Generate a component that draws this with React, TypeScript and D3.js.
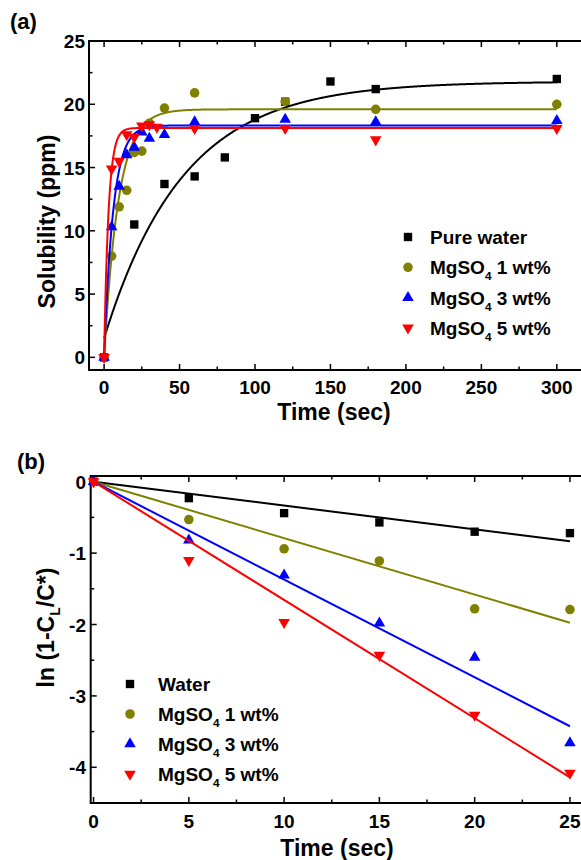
import React, { useEffect, useRef } from 'react';
import * as d3 from 'd3';

// ---- panel (a): solubility vs time ----
const timesWater = [0, 20, 40, 60, 80, 100, 120, 150, 180, 300];
const solWater = [0, 10.5, 13.7, 14.3, 15.8, 18.9, 20.2, 21.8, 21.2, 22.0];

const times1 = [0, 5, 10, 15, 20, 25, 30, 40, 60, 120, 180, 300];
const sol1 = [0, 8.0, 11.9, 13.2, 16.2, 16.3, 18.5, 19.7, 20.9, 20.2, 19.6, 20.0];

const times3 = [0, 5, 10, 15, 20, 25, 30, 40, 60, 120, 180, 300];
const sol3 = [0, 10.3, 13.5, 16.0, 16.6, 17.8, 17.3, 17.6, 18.6, 18.8, 18.6, 18.7];

const times5 = [0, 5, 10, 15, 20, 25, 30, 35, 60, 120, 180, 300];
const sol5 = [0, 14.9, 15.5, 17.6, 17.4, 18.3, 18.4, 18.2, 18.1, 18.1, 17.2, 18.1];

// first-order fits: y0 + A * (1 - exp(-k t))
const fitY0 = [1.5, 0, 0, 0];
const fitA = [20.3, 19.6, 18.33, 18.13];
const fitK = [0.0191, 0.105, 0.165, 0.34];

const xTicksA = [0, 50, 100, 150, 200, 250, 300];
const yTicksA = [0, 5, 10, 15, 20, 25];

// ---- panel (b): ln(1 - CL/C*) vs time ----
const timesB = [0, 5, 10, 15, 20, 25];
const lnWater = [0, -0.23, -0.44, -0.57, -0.70, -0.72];
const ln1 = [0, -0.53, -0.94, -1.11, -1.78, -1.79];
const ln3 = [0, -0.82, -1.31, -1.98, -2.46, -3.66];
const ln5 = [0, -1.10, -1.97, -2.43, -3.27, -4.08];
const slopesB = [-0.0334, -0.079, -0.137, -0.1656];

const xTicksB = [0, 5, 10, 15, 20, 25];
const yTicksB = [0, -1, -2, -3, -4];

const colors = ['#000000', '#808000', '#0000ff', '#ff0000'];
const symbols = ['square', 'circle', 'up', 'down'];
const namesA = ['Pure water', 'MgSO4 1 wt%', 'MgSO4 3 wt%', 'MgSO4 5 wt%'];
const namesB = ['Water', 'MgSO4 1 wt%', 'MgSO4 3 wt%', 'MgSO4 5 wt%'];

const FONT = '"Liberation Sans", Arial, sans-serif';
const TICK_FS = 19;
const TITLE_FS = 23;
const LEG_FS = 19;

function symbolPath(kind: string) {
  if (kind === 'square') return d3.symbol(d3.symbolSquare, 70)();
  if (kind === 'circle') return d3.symbol(d3.symbolCircle, 72)();
  return d3.symbol(d3.symbolTriangle, 58)();
}

function drawMarker(g: any, kind: string, x: number, y: number, color: string) {
  g.append('path')
    .attr('d', symbolPath(kind))
    .attr('fill', color)
    .attr('transform', `translate(${x},${y})${kind === 'down' ? ' rotate(180)' : ''}`);
}

function labelWithSub(sel: any, name: string, size: number) {
  // "MgSO4 ..." -> MgSO with subscript 4
  if (name.startsWith('MgSO4')) {
    sel.append('tspan').text('MgSO');
    sel.append('tspan').text('4').attr('font-size', size * 0.62).attr('dy', 6);
    sel.append('tspan').text(name.slice(5)).attr('dy', -6);
  } else {
    sel.text(name);
  }
}

function drawFrame(svg: any, x: any, y: any, xMinor: number[], yMinor: number[], xMajor: number[], yMajor: number[]) {
  const [x0, x1] = x.range();
  const [y0, y1] = y.range();
  const g = svg.append('g');
  g.append('rect')
    .attr('x', x0).attr('y', y1)
    .attr('width', x1 - x0).attr('height', y0 - y1)
    .attr('fill', 'none').attr('stroke', '#000').attr('stroke-width', 2);
  const tick = (xa: number, ya: number, xb: number, yb: number) =>
    g.append('line').attr('x1', xa).attr('y1', ya).attr('x2', xb).attr('y2', yb)
      .attr('stroke', '#000').attr('stroke-width', 1.5);
  xMajor.forEach(v => { tick(x(v), y0, x(v), y0 - 6); tick(x(v), y1, x(v), y1 + 6); });
  xMinor.forEach(v => { tick(x(v), y0, x(v), y0 - 3.5); tick(x(v), y1, x(v), y1 + 3.5); });
  yMajor.forEach(v => { tick(x0, y(v), x0 + 6, y(v)); });
  yMinor.forEach(v => { tick(x0, y(v), x0 + 3.5, y(v)); });
}

const App = () => {
  const svgRef = useRef<SVGSVGElement>(null);

  useEffect(() => {
    const svg = d3.select(svgRef.current);
    svg.selectAll('*').remove();
    svg.attr('font-family', FONT).attr('font-weight', 'bold');

    // ================= panel (a) =================
    const xa = d3.scaleLinear().domain([-10, 320]).range([89, 587]);
    const ya = d3.scaleLinear().domain([-1, 25]).range([370, 41]);

    drawFrame(svg, xa, ya,
      d3.range(25, 325, 50), d3.range(2.5, 25, 5),
      xTicksA, yTicksA);

    svg.append('g').selectAll('text').data(xTicksA).enter().append('text')
      .attr('x', d => xa(d)).attr('y', 394)
      .attr('text-anchor', 'middle').attr('font-size', TICK_FS)
      .text(d => d);
    svg.append('g').selectAll('text').data(yTicksA).enter().append('text')
      .attr('x', 85).attr('y', d => ya(d) + 7)
      .attr('text-anchor', 'end').attr('font-size', TICK_FS)
      .text(d => d);

    svg.append('text').attr('x', 334).attr('y', 420)
      .attr('text-anchor', 'middle').attr('font-size', TITLE_FS).text('Time (sec)');
    svg.append('text')
      .attr('transform', `translate(55,${(41 + 370) / 2 + 16}) rotate(-90)`)
      .attr('text-anchor', 'middle').attr('font-size', TITLE_FS).text('Solubility (ppm)');
    svg.append('text').attr('x', 10).attr('y', 29).attr('font-size', 22).text('(a)');

    const seriesA = [
      [timesWater, solWater], [times1, sol1], [times3, sol3], [times5, sol5],
    ];
    const tFit = d3.range(0, 300.25, 0.25);
    seriesA.forEach(([ts, vs], i) => {
      const line = d3.line<number>()
        .x(t => xa(t))
        .y(t => ya(fitY0[i] + fitA[i] * (1 - Math.exp(-fitK[i] * t))));
      svg.append('path').attr('d', line(tFit))
        .attr('fill', 'none').attr('stroke', colors[i]).attr('stroke-width', 2);
      const g = svg.append('g');
      ts.forEach((t, j) => drawMarker(g, symbols[i], xa(t), ya(vs[j]), colors[i]));
    });

    const legA = svg.append('g');
    namesA.forEach((name, i) => {
      const yy = 237 + i * 30.3;
      drawMarker(legA, symbols[i], 408, yy, colors[i]);
      const t = legA.append('text').attr('x', 430).attr('y', yy + 7).attr('font-size', LEG_FS);
      labelWithSub(t, name, LEG_FS);
    });

    // ================= panel (b) =================
    const xb = d3.scaleLinear().domain([-0.15, 26]).range([90.7, 589]);
    const yb = d3.scaleLinear().domain([-4.5, 0.08]).range([803, 476]);

    drawFrame(svg, xb, yb,
      d3.range(2.5, 26, 5), d3.range(-0.5, -4.6, -1),
      xTicksB, yTicksB);

    svg.append('g').selectAll('text').data(xTicksB).enter().append('text')
      .attr('x', d => xb(d)).attr('y', 828)
      .attr('text-anchor', 'middle').attr('font-size', TICK_FS)
      .text(d => d);
    svg.append('g').selectAll('text').data(yTicksB).enter().append('text')
      .attr('x', 86).attr('y', d => yb(d) + 7)
      .attr('text-anchor', 'end').attr('font-size', TICK_FS)
      .text(d => (d < 0 ? '-' + Math.abs(d) : d));

    svg.append('text').attr('x', 337).attr('y', 856)
      .attr('text-anchor', 'middle').attr('font-size', TITLE_FS).text('Time (sec)');
    const yt = svg.append('text')
      .attr('transform', `translate(54,${(476 + 803) / 2 - 12}) rotate(-90)`)
      .attr('text-anchor', 'middle').attr('font-size', TITLE_FS);
    yt.append('tspan').text('ln (1-C');
    yt.append('tspan').text('L').attr('font-size', 14).attr('dy', 6);
    yt.append('tspan').text('/C*)').attr('dy', -6);
    svg.append('text').attr('x', 17).attr('y', 469).attr('font-size', 22).text('(b)');

    const seriesB = [lnWater, ln1, ln3, ln5];
    seriesB.forEach((vs, i) => {
      const line = d3.line<number>().x(t => xb(t)).y(t => yb(slopesB[i] * t));
      svg.append('path').attr('d', line([0, 25]))
        .attr('fill', 'none').attr('stroke', colors[i]).attr('stroke-width', 2);
      const g = svg.append('g');
      timesB.forEach((t, j) => drawMarker(g, symbols[i], xb(t), yb(vs[j]), colors[i]));
    });

    const legB = svg.append('g');
    namesB.forEach((name, i) => {
      const yy = 684 + i * 30;
      drawMarker(legB, symbols[i], 130, yy, colors[i]);
      const t = legB.append('text').attr('x', 158).attr('y', yy + 7).attr('font-size', LEG_FS);
      labelWithSub(t, name, LEG_FS);
    });
  }, []);

  return (
    <div style={{ position: 'absolute', left: 0, top: 0, width: 581, height: 860, overflow: 'hidden' }}>
      <svg ref={svgRef} width={581} height={860} style={{ display: 'block', background: '#fff' }}></svg>
    </div>
  );
};

export default App;
